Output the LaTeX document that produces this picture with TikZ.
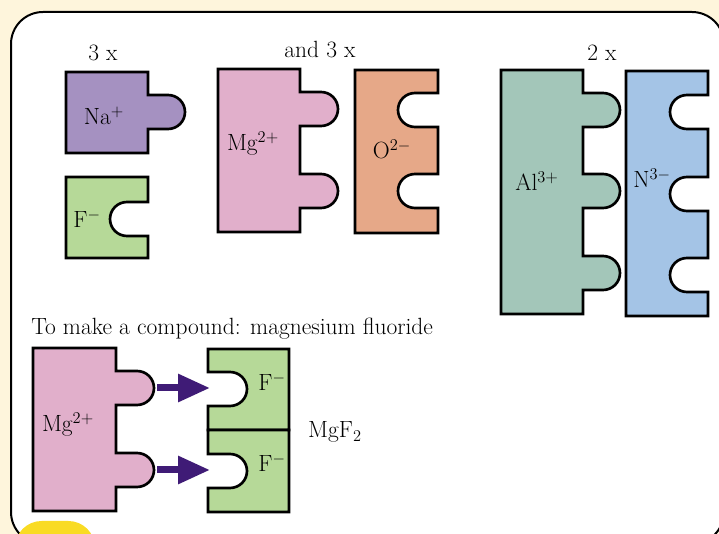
\documentclass[tikz,border=0pt]{standalone}
\usepackage{tikz}
\usetikzlibrary{arrows.meta}
\definecolor{mcream}{HTML}{FEF5DC}
\definecolor{myellow}{HTML}{F9DB24}
\definecolor{mpurple}{HTML}{A591C1}
\definecolor{mgreen}{HTML}{B6D998}
\definecolor{mpink}{HTML}{E1AFCB}
\definecolor{morange}{HTML}{E6A888}
\definecolor{mteal}{HTML}{A3C6B9}
\definecolor{mblue}{HTML}{A4C4E6}
\definecolor{mviolet}{HTML}{3F1B76}
\newcommand{\tabrad}{12.75pt}
\tikzset{
  piece/.style={draw=black, line width=2pt},
  ptxt/.style={font=\fontsize{17.6}{21}\selectfont, inner sep=0pt, anchor=base},
  arr/.style={-{Triangle[length=24pt, width=20pt]}, line width=5.25pt, mviolet},
  tabr/.style n args={3}{insert path={-- (#1,#2) -- ++(#3,0)
      arc[start angle=90, end angle=-90, radius=\tabrad] -- ++(-#3,0)}},
  notr/.style n args={3}{insert path={-- (#1,#2) -- ++(-#3,0)
      arc[start angle=90, end angle=270, radius=\tabrad] -- ++(#3,0)}},
  notl/.style n args={3}{insert path={-- (#1,#2) -- ++(#3,0)
      arc[start angle=-90, end angle=90, radius=\tabrad] -- ++(-#3,0)}},
}
\begin{document}
\begin{tikzpicture}[x=0.75pt, y=-0.75pt]
  %% Frame
  \useasboundingbox (0,0) rectangle (719,534);
  \clip (0,0) rectangle (719,534);
  \fill[mcream] (0,0) rectangle (719,534);
  \draw[line width=1.5pt, fill=white, rounded corners=24pt] (11,12) rectangle (724,544);
  \fill[myellow, rounded corners=20pt] (15,521) rectangle (95,562);

  %% Sodium fluoride
  \node[ptxt] (nna) at (103,61) {3 x};
  \draw[piece, fill=mpurple] (66,72) -- (148,72) [tabr={148}{95}{20}] -- (148,153) -- (66,153) -- cycle;
  \node[ptxt] (na) at (104,125) {Na\textsuperscript{+}};
  \draw[piece, fill=mgreen] (66,177) -- (148,177) [notr={148}{202}{21}] -- (148,258) -- (66,258) -- cycle;
  \node[ptxt] (fa) at (87,228) {F\textsuperscript{$-$}};

  %% Magnesium oxide
  \node[ptxt] (nmg) at (320,58) {and 3 x};
  \draw[piece, fill=mpink] (218,69) -- (300,69) [tabr={300}{92}{21}] [tabr={300}{174}{21}] -- (300,232) -- (218,232) -- cycle;
  \node[ptxt] (mga) at (253,151) {Mg\textsuperscript{2+}};
  \draw[piece, fill=morange] (355,70) -- (438,70) [notr={438}{93}{23}] [notr={438}{174}{23}] -- (438,233) -- (355,233) -- cycle;
  \node[ptxt] (oa) at (392,159) {O\textsuperscript{2$-$}};

  %% Aluminium nitride
  \node[ptxt] (nal) at (602,61) {2 x};
  \draw[piece, fill=mteal] (501,70) -- (583,70) [tabr={583}{93}{20}] [tabr={583}{174}{20}] [tabr={583}{256}{20}] -- (583,314) -- (501,314) -- cycle;
  \node[ptxt] (ala) at (537,191) {Al\textsuperscript{3+}};
  \draw[piece, fill=mblue] (626,71) -- (708,71) [notr={708}{95}{21}] [notr={708}{177}{21}] [notr={708}{258}{21}] -- (708,316) -- (626,316) -- cycle;
  \node[ptxt] (nb) at (652,188) {N\textsuperscript{3$-$}};

  %% Compound
  \node[ptxt, anchor=base west] (title) at (31,335) {To make a compound: magnesium fluoride};
  \draw[piece, fill=mpink] (33,348) -- (116,348) [tabr={116}{371}{21}] [tabr={116}{453}{21}] -- (116,511) -- (33,511) -- cycle;
  \node[ptxt] (mgb) at (68,432) {Mg\textsuperscript{2+}};
  \draw[piece, fill=mgreen] (208,349) -- (289,349) -- (289,430) -- (208,430) [notl={208}{406}{22}] -- cycle;
  \node[ptxt] (fb1) at (272,391) {F\textsuperscript{$-$}};
  \draw[piece, fill=mgreen] (208,430) -- (289,430) -- (289,512) -- (208,512) [notl={208}{488}{22}] -- cycle;
  \node[ptxt] (fb2) at (272,472) {F\textsuperscript{$-$}};
  \node[ptxt] (mgf) at (335,438) {MgF\textsubscript{2}};

  \coordinate (mgtab1) at (154,388);
  \coordinate (mgtab2) at (154,470);
  \coordinate (fslot1) at (210,388);
  \coordinate (fslot2) at (210,470);
  \draw[arr, shorten <=2.25pt] (mgtab1) -- (fslot1);
  \draw[arr, shorten <=2.25pt] (mgtab2) -- (fslot2);

\end{tikzpicture}
\end{document}
